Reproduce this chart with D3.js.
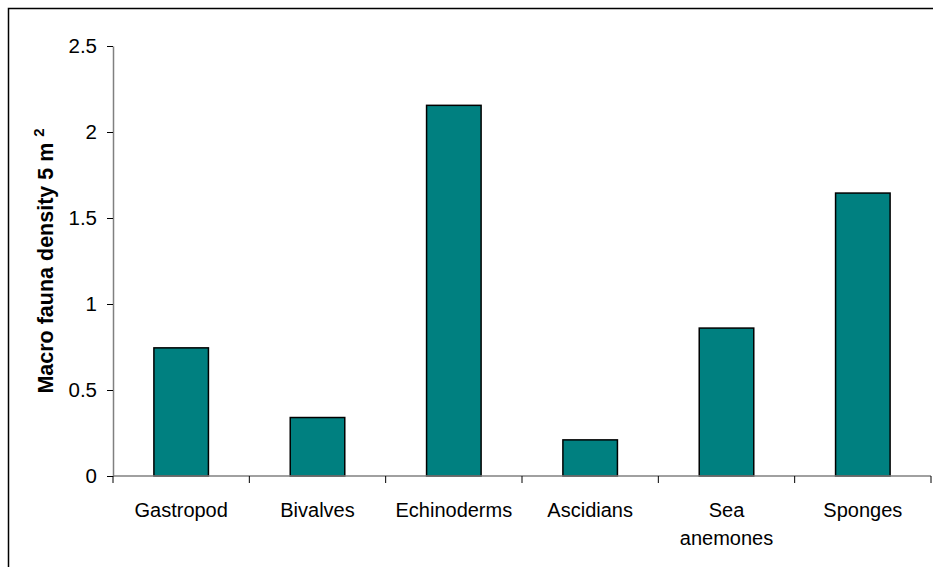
<!DOCTYPE html>
<html>
<head>
<meta charset="utf-8">
<script src="https://cdn.jsdelivr.net/npm/d3@7"></script>
<style>
  html, body { margin: 0; padding: 0; background: #fff; }
  svg { display: block; }
  text { font-family: "Liberation Sans", Arial, sans-serif; }
</style>
</head>
<body>
<svg id="chart" width="933" height="567"></svg>
<script>
// Macro fauna density by group
const categories = ["Gastropod", "Bivalves", "Echinoderms", "Ascidians", "Sea anemones", "Sponges"];
const densities = [0.745, 0.34, 2.155, 0.21, 0.86, 1.645];
const yTicks = [0, 0.5, 1, 1.5, 2, 2.5];
const yTickLabels = ["0", "0.5", "1", "1.5", "2", "2.5"];

const svg = d3.select("#chart");
const W = 933, H = 567;
const plot = { left: 113, right: 931, top: 46, bottom: 476 };

// outer chart frame (extends past the right and bottom edges)
svg.append("rect")
  .attr("x", 8.5).attr("y", 8.5)
  .attr("width", W + 20).attr("height", H + 20)
  .attr("fill", "none").attr("stroke", "#000").attr("stroke-width", 1.5);

const x = d3.scaleBand().domain(categories).range([plot.left, plot.right]).paddingInner(0.6).paddingOuter(0.3);
const xBand = d3.scaleBand().domain(categories).range([plot.left, plot.right]);
const y = d3.scaleLinear().domain([0, 2.5]).range([plot.bottom, plot.top]);

// bars
svg.append("g").selectAll("rect")
  .data(categories)
  .join("rect")
  .attr("x", d => x(d))
  .attr("width", x.bandwidth())
  .attr("y", (d, i) => y(densities[i]))
  .attr("height", (d, i) => y(0) - y(densities[i]))
  .attr("fill", "#008080")
  .attr("stroke", "#000")
  .attr("stroke-width", 1.5);

// y axis
const yAxis = svg.append("g")
  .attr("transform", `translate(${plot.left},0)`)
  .call(d3.axisLeft(y).tickValues(yTicks).tickFormat((d, i) => yTickLabels[i]).tickSize(6).tickSizeOuter(0).tickPadding(10));
yAxis.select(".domain").attr("stroke", "#808080").attr("stroke-width", 1.5);
yAxis.selectAll(".tick line").attr("stroke", "#000");
yAxis.selectAll(".tick text").attr("font-size", 20.5).attr("fill", "#000")
  .attr("font-family", "Liberation Sans, Arial, sans-serif");

// x axis with ticks at band boundaries
const xAxis = svg.append("g").attr("transform", `translate(0,${plot.bottom})`);
xAxis.append("line")
  .attr("x1", plot.left).attr("x2", plot.right)
  .attr("stroke", "#808080").attr("stroke-width", 1.5);
const boundaries = categories.map(c => xBand(c)).concat([plot.right]);
xAxis.selectAll("line.tk")
  .data(boundaries)
  .join("line")
  .attr("class", "tk")
  .attr("x1", d => d).attr("x2", d => d)
  .attr("y1", 0).attr("y2", 7)
  .attr("stroke", "#000");

// category labels, wrapped on spaces
const labels = xAxis.selectAll("text.cat")
  .data(categories)
  .join("text")
  .attr("class", "cat")
  .attr("text-anchor", "middle")
  .attr("font-size", 20)
  .attr("fill", "#000")
  .attr("transform", d => `translate(${xBand(d) + xBand.bandwidth() / 2},41)`);
labels.each(function(d) {
  const words = d.split(" ");
  d3.select(this).selectAll("tspan")
    .data(words)
    .join("tspan")
    .attr("x", 0)
    .attr("dy", (w, i) => i === 0 ? 0 : 28)
    .text(w => w);
});

// y axis title with superscript
const yTitle = svg.append("text")
  .attr("transform", `translate(53,${(plot.top + plot.bottom) / 2}) rotate(-90)`)
  .attr("text-anchor", "middle")
  .attr("font-size", 21.5)
  .attr("font-weight", "bold")
  .attr("fill", "#000");
yTitle.append("tspan").text("Macro fauna density 5 m ");
yTitle.append("tspan").attr("font-size", 15).attr("dy", -9).text("2");
</script>
</body>
</html>
